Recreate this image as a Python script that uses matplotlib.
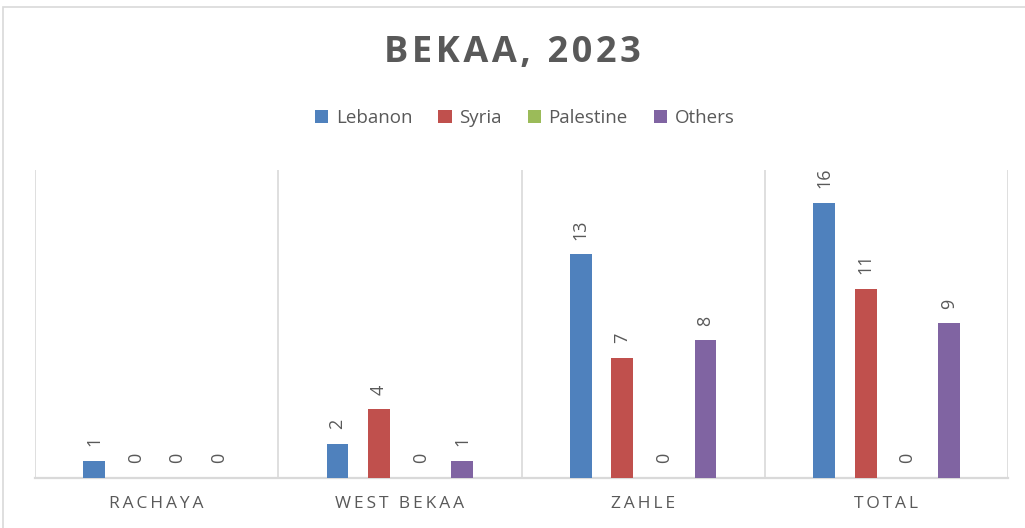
import matplotlib
matplotlib.use("Agg")
import matplotlib.pyplot as plt
import numpy as np
from matplotlib.patches import Rectangle

categories = ["RACHAYA", "WEST BEKAA", "ZAHLE", "TOTAL"]
series_names = ["Lebanon", "Syria", "Palestine", "Others"]
lebanon = [1, 2, 13, 16]
syria = [0, 4, 7, 11]
palestine = [0, 0, 0, 0]
others = [0, 1, 8, 9]
title = "BEKAA, 2023"

values = [lebanon, syria, palestine, others]
colors = ["#4F81BD", "#C0504D", "#9BBB59", "#8064A2"]
text_color = "#595959"
grid_color = "#D9D9D9"

plt.rcParams['font.family'] = ['Open Sans', 'DejaVu Sans']


def spaced(s, sep):
    return sep.join(s)


fig = plt.figure(figsize=(10.25, 5.28), dpi=100)
# outer chart border
fig.patches.append(Rectangle((3/1025, -0.1), 1.2, 1 - 7/528 + 0.1, transform=fig.transFigure,
                             fill=False, edgecolor="#D9D9D9", linewidth=1.2))

ax = fig.add_axes([35/1025, 1 - 478/528, (1008-35)/1025, (478-170)/528])
n = len(categories)
x = np.arange(n)
spacing = 0.171
width = 0.09
offsets = (np.arange(4) - 1.5) * spacing
for i, (name, vals) in enumerate(zip(series_names, values)):
    ax.bar(x + offsets[i], vals, width, color=colors[i], label=name, zorder=3)
    for xi, v in zip(x + offsets[i], vals):
        ax.text(xi, v + 0.85, str(v), rotation=90, ha='center', va='bottom',
                fontsize=13, color=text_color)

ax.set_xlim(-0.5, n - 0.5)
ax.set_ylim(0, 17.9)
ax.set_yticks([])
for b in np.arange(-0.5, n, 1.0):
    ax.axvline(b, color=grid_color, linewidth=1.2, zorder=1)
for s in ['top', 'right', 'left']:
    ax.spines[s].set_visible(False)
ax.spines['bottom'].set_color(grid_color)
ax.spines['bottom'].set_linewidth(1.6)
ax.set_xticks(x)
ax.set_xticklabels([spaced(c, "\u2009") for c in categories],
                   fontsize=12.5, color=text_color)
ax.tick_params(axis='x', length=0, pad=13)

fig.text(0.5, 1 - 53/528, spaced(title, "\u200a"), ha='center', va='center', fontsize=26,
         fontweight='bold', color=text_color)
fig.legend(loc='center', bbox_to_anchor=(0.512, 1 - 118/528), ncol=4, frameon=False,
           fontsize=13.5, handlelength=0.7, handleheight=0.7, handletextpad=0.4,
           columnspacing=1.4, labelcolor=text_color)

fig.savefig("out.png", dpi=100)
